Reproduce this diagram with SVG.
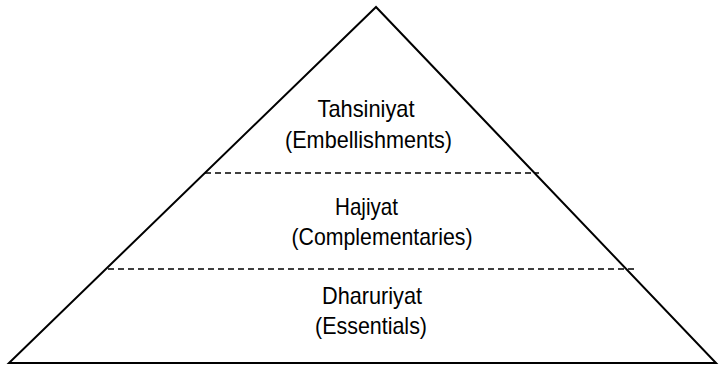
<svg xmlns="http://www.w3.org/2000/svg" width="722" height="367" viewBox="0 0 722 367">
<style>
.edge{fill:none;stroke:#000;stroke-width:2}
.dash{stroke:#000;stroke-width:1.5;stroke-dasharray:6 4}
.lbl{font-family:"Liberation Sans",Arial,sans-serif;font-size:24px;fill:#000;text-anchor:middle}
</style>
<rect width="722" height="367" fill="#fff"/>
<g id="connectors">
<polygon class="edge" points="376,7 9,363 716,363"/>
<line class="dash" x1="205" y1="173" x2="539" y2="173"/>
<line class="dash" x1="108" y1="269" x2="637" y2="269"/>
</g>
<g id="tahsiniyat">
<text class="lbl" x="366" y="117" textLength="97" lengthAdjust="spacingAndGlyphs">Tahsiniyat</text>
<text class="lbl" x="368.5" y="148" textLength="167" lengthAdjust="spacingAndGlyphs">(Embellishments)</text>
</g>
<g id="hajiyat">
<text class="lbl" x="366.5" y="215" textLength="63" lengthAdjust="spacingAndGlyphs">Hajiyat</text>
<text class="lbl" x="382" y="245" textLength="181" lengthAdjust="spacingAndGlyphs">(Complementaries)</text>
</g>
<g id="dharuriyat">
<text class="lbl" x="372" y="304" textLength="100" lengthAdjust="spacingAndGlyphs">Dharuriyat</text>
<text class="lbl" x="371" y="334" textLength="112" lengthAdjust="spacingAndGlyphs">(Essentials)</text>
</g>
</svg>
